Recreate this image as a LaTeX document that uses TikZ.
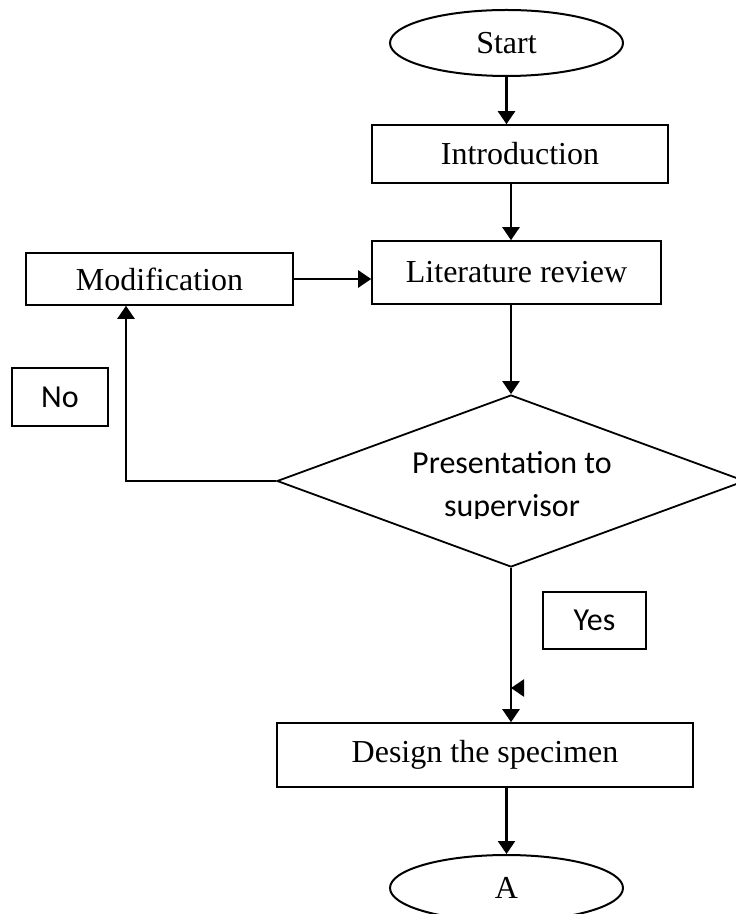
\documentclass[tikz,border=0pt]{standalone}
\usepackage{fontspec}
\setmainfont{Liberation Serif}
\newfontfamily\calfont{Carlito}
\usetikzlibrary{arrows.meta,shapes.geometric}

\begin{document}
\begin{tikzpicture}[
    x=0.5pt, y=-0.5pt,
    tbox/.style={rectangle, draw=black, line width=0.8pt, inner sep=0pt, font=\fontsize{16}{19}\selectfont},
    term/.style={ellipse, draw=black, line width=1pt, inner sep=0pt, minimum width=116.5pt, minimum height=33pt, font=\fontsize{16}{19}\selectfont},
    cond/.style={diamond, aspect=2.72, draw=black, line width=0.9pt, inner sep=0pt, minimum width=234pt, minimum height=86pt},
    ctext/.style={align=center, inner sep=0pt, font=\calfont\fontsize{16}{21.5}\selectfont},
    lbl/.style={rectangle, draw=black, line width=0.8pt, inner sep=0pt, font=\calfont\fontsize{16}{19}\selectfont},
    arr/.style={-{Triangle[length=6.5pt,width=8.5pt]}, line width=1.2pt}
]
\useasboundingbox (0,0) rectangle (735,914);

%% nodes
\node[term] (start) at (506.5,43) {Start};
\node[tbox, minimum width=148pt, minimum height=29pt] (intro) at (520,154) {Introduction};
\node[tbox, minimum width=144.5pt, minimum height=31.5pt] (lit) at (516.5,272.5) {Literature review};
\node[tbox, minimum width=133.5pt, minimum height=26pt] (modif) at (159.5,279) {Modification};
\node[cond] (dia) at (511,481) {};
\begin{scope}
  \clip (0,0) rectangle (735,518);
  \node[ctext] (diatext) at (512,487) {Presentation to\\supervisor};
\end{scope}
\node[lbl, minimum width=48pt, minimum height=29pt] (no) at (60,397) {No};
\node[lbl, minimum width=51.5pt, minimum height=28.5pt] (yes) at (594.5,620.5) {Yes};
\node[tbox, minimum width=208pt, minimum height=32pt] (design) at (485,755) {Design the specimen};
\node[term] (a) at (506.5,888) {A};

%% connectors
\coordinate (bend) at (126,481);
\coordinate (stub) at (522,688);
\draw[arr] (start.south) -- (start.south |- intro.north);
\draw[arr] (intro.south -| dia.north) -- (lit.north -| dia.north);
\draw[arr] (lit.south -| dia.north) -- (dia.north);
\draw[arr] (modif.east) -- (lit.west |- modif.east);
\draw[arr] (dia.west) -- (bend) -- (bend |- modif.south);
\draw[arr] (dia.south) -- (dia.south |- design.north);
\draw[arr] (stub) -- (stub -| dia.south);
\draw[arr] (a.north |- design.south) -- (a.north);
\end{tikzpicture}
\end{document}
